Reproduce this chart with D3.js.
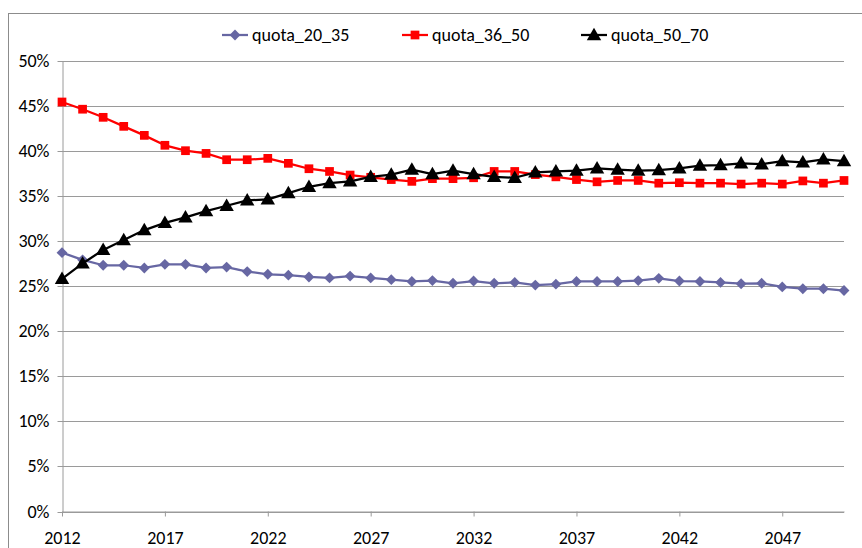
<!DOCTYPE html>
<html>
<head>
<meta charset="utf-8">
<script src="https://cdn.jsdelivr.net/npm/d3@7"></script>
<style>
  html, body { margin: 0; padding: 0; background: #fff; }
  svg { display: block; }
  text { font-family: Carlito, Calibri, Lato, "Open Sans", sans-serif; fill: #000; }
</style>
</head>
<body>
<svg id="chart" width="862" height="548"></svg>
<script>
const years = d3.range(2012, 2051);
const seriesNames = ["quota_20_35", "quota_36_50", "quota_50_70"];
const quota_20_35 = [28.7, 27.9, 27.3, 27.3, 27.0, 27.4, 27.4, 27.0, 27.1, 26.6,
  26.3, 26.2, 26.0, 25.9, 26.1, 25.9, 25.7, 25.5, 25.6, 25.3,
  25.55, 25.3, 25.4, 25.1, 25.2, 25.5, 25.5, 25.5, 25.6, 25.85,
  25.55, 25.5, 25.4, 25.25, 25.3, 24.9, 24.7, 24.7, 24.5];
const quota_36_50 = [45.4, 44.6, 43.7, 42.7, 41.7, 40.6, 40.0, 39.7, 39.0, 39.0,
  39.15, 38.6, 38.0, 37.7, 37.3, 37.05, 36.8, 36.6, 36.9, 36.9,
  37.0, 37.7, 37.7, 37.35, 37.1, 36.8, 36.55, 36.7, 36.7, 36.4,
  36.45, 36.4, 36.4, 36.3, 36.4, 36.3, 36.65, 36.4, 36.7];
const quota_50_70 = [25.8, 27.5, 29.0, 30.1, 31.2, 32.0, 32.6, 33.3, 33.9, 34.5,
  34.6, 35.3, 36.0, 36.4, 36.6, 37.1, 37.35, 37.9, 37.4, 37.8,
  37.4, 37.1, 37.0, 37.6, 37.7, 37.8, 38.05, 37.9, 37.8, 37.85,
  38.05, 38.35, 38.4, 38.6, 38.5, 38.85, 38.7, 39.05, 38.85];
const yTicks = [0, 5, 10, 15, 20, 25, 30, 35, 40, 45, 50];
const xTicks = [2012, 2017, 2022, 2027, 2032, 2037, 2042, 2047];

const seriesValues = [quota_20_35, quota_36_50, quota_50_70];
const colors = ["#6767a3", "#ff0000", "#000000"];
const symbols = [d3.symbolDiamond2, d3.symbolSquare, d3.symbolTriangle];
const symSizes = [75, 76, 90];

const svg = d3.select("#chart");
const FS = "18px";

// outer border
svg.append("rect").attr("x", 8.5).attr("y", 13.5).attr("width", 900).attr("height", 600)
  .attr("fill", "none").attr("stroke", "#8c8c8c").attr("stroke-width", 1);

const x = d3.scaleLinear().domain([2012, 2050]).range([62, 844]);
const y = d3.scaleLinear().domain([0, 50]).range([511.5, 60.5]);

// gridlines
svg.append("g").selectAll("line").data(yTicks).join("line")
  .attr("x1", 62).attr("x2", 844)
  .attr("y1", d => Math.round(y(d)) + 0.5).attr("y2", d => Math.round(y(d)) + 0.5)
  .attr("stroke", "#9a9a9a").attr("stroke-width", 1);

// y axis
const yAxis = svg.append("g").attr("transform", "translate(62.5,0)")
  .call(d3.axisLeft(y).tickValues(yTicks).tickFormat(d => d + "%").tickSize(5).tickPadding(8).tickSizeOuter(0));
yAxis.select(".domain").attr("stroke", "#9a9a9a");
yAxis.selectAll(".tick line").attr("stroke", "#9a9a9a");
yAxis.selectAll(".tick").attr("transform", d => `translate(0,${Math.round(y(d)) + 0.5})`);
yAxis.selectAll("text").style("font-size", FS).attr("fill", "#000");

// x axis
const xAxis = svg.append("g").attr("transform", "translate(0,511.5)")
  .call(d3.axisBottom(x).tickValues(xTicks).tickFormat(d => d).tickSize(5).tickPadding(15).tickSizeOuter(0));
xAxis.select(".domain").attr("stroke", "#9a9a9a");
xAxis.selectAll(".tick line").attr("stroke", "#9a9a9a");
xAxis.selectAll("text").style("font-size", FS).attr("fill", "#000");

// lines and markers
const line = d3.line().x((d, i) => x(years[i])).y(d => y(d));
seriesValues.forEach((vals, s) => {
  svg.append("path").datum(vals).attr("d", line)
    .attr("fill", "none").attr("stroke", colors[s]).attr("stroke-width", 2.25)
    .attr("stroke-linejoin", "round");
  svg.append("g").selectAll("path").data(vals).join("path")
    .attr("d", d3.symbol().type(symbols[s]).size(symSizes[s]))
    .attr("transform", (d, i) => `translate(${x(years[i])},${y(d) + (s === 2 ? 1 : 0)})`)
    .attr("fill", colors[s]);
});

// legend
const legendX = [222, 402, 581];
const legend = svg.append("g");
seriesNames.forEach((name, s) => {
  const g = legend.append("g").attr("transform", `translate(${legendX[s]},35)`);
  g.append("line").attr("x1", 0).attr("x2", 26).attr("y1", 0).attr("y2", 0)
    .attr("stroke", colors[s]).attr("stroke-width", 2.25);
  g.append("path").attr("d", d3.symbol().type(symbols[s]).size(symSizes[s]))
    .attr("transform", `translate(13,${s === 2 ? 1 : 0})`).attr("fill", colors[s]);
  g.append("text").attr("x", 30).attr("y", 0).attr("dy", "0.35em")
    .style("font-size", FS).text(name);
});
</script>
</body>
</html>
